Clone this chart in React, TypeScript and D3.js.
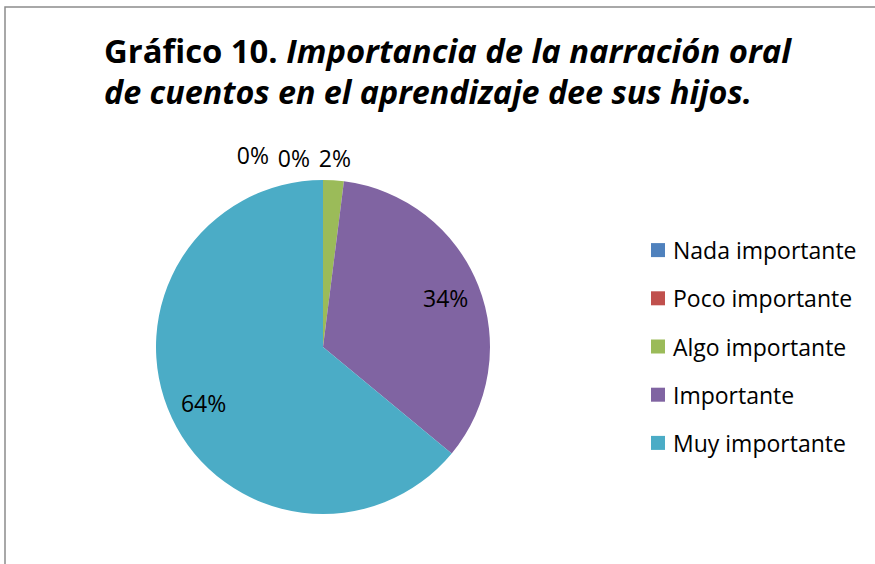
import React from "react";
import * as d3 from "d3";

// chart values
const categories = ["Nada importante", "Poco importante", "Algo importante", "Importante", "Muy importante"];
const percents = [0, 0, 2, 34, 64];
const colors = ["#4F81BD", "#C0504D", "#9BBB59", "#8064A2", "#4BACC6"];
const titleLines = ["Importancia de la narración oral", "de cuentos en el aprendizaje dee sus hijos."];

const width = 875;
const height = 564;
const cx = 323, cy = 347, radius = 167;
const font = "'Open Sans', 'Noto Sans', sans-serif";

export default function App() {
  const pie = d3.pie<number>().sort(null).value((d) => d);
  const arcs = pie(percents);
  const arc = d3.arc<d3.PieArcDatum<number>>().innerRadius(0).outerRadius(radius);
  const labelArc = d3.arc<d3.PieArcDatum<number>>().innerRadius(radius * 0.79).outerRadius(radius * 0.79);
  const outerArc = d3.arc<d3.PieArcDatum<number>>().innerRadius(radius + 22).outerRadius(radius + 22);

  // small slices get outside labels, pushed left so they don't collide
  const labels = arcs.map((a, i) => {
    const small = a.data < 5;
    const [x, y] = small ? outerArc.centroid(a) : labelArc.centroid(a);
    return { x, y, small, text: a.data + "%", i };
  });
  for (let i = labels.length - 2; i >= 0; i--) {
    if (labels[i].small && labels[i + 1].small) {
      labels[i].x = Math.min(labels[i].x, labels[i + 1].x - 41);
      labels[i].y = labels[i + 1].y - (i === 0 ? 3 : 0);
    }
  }

  const legendY = d3.scaleBand().domain(categories).range([226, 467]);

  return (
    <svg width={width} height={height} style={{ position: "absolute", left: 0, top: 0, background: "#fff" }}>
      <rect x={5} y={7} width={width + 10} height={height + 10} fill="white" stroke="#8c8c8c" strokeWidth={1.5} />

      <text x={104} y={63} fontFamily={font} fontSize={33} fontWeight="bold" textLength={687} lengthAdjust="spacingAndGlyphs">
        Gráfico 10. <tspan fontStyle="italic">{titleLines[0]}</tspan>
      </text>
      <text x={104} y={104} fontFamily={font} fontSize={33} fontWeight="bold" fontStyle="italic" textLength={648} lengthAdjust="spacingAndGlyphs">
        {titleLines[1]}
      </text>

      <g transform={`translate(${cx},${cy})`}>
        {arcs.map((a, i) => (
          <path key={categories[i]} d={arc(a) || ""} fill={colors[i]} />
        ))}
        {labels.map((l) => (
          <text key={l.i} x={l.x} y={l.y} textAnchor="middle" dominantBaseline="central" fontFamily={font} fontSize={23} fill="#000">
            {l.text}
          </text>
        ))}
      </g>

      <g>
        {categories.map((c, i) => {
          const y = (legendY(c) || 0) + legendY.bandwidth() / 2;
          return (
            <g key={c}>
              <rect x={651} y={y - 7} width={14} height={14} fill={colors[i]} />
              <text x={673} y={y} dominantBaseline="central" fontFamily={font} fontSize={23} fill="#000">
                {c}
              </text>
            </g>
          );
        })}
      </g>
    </svg>
  );
}
